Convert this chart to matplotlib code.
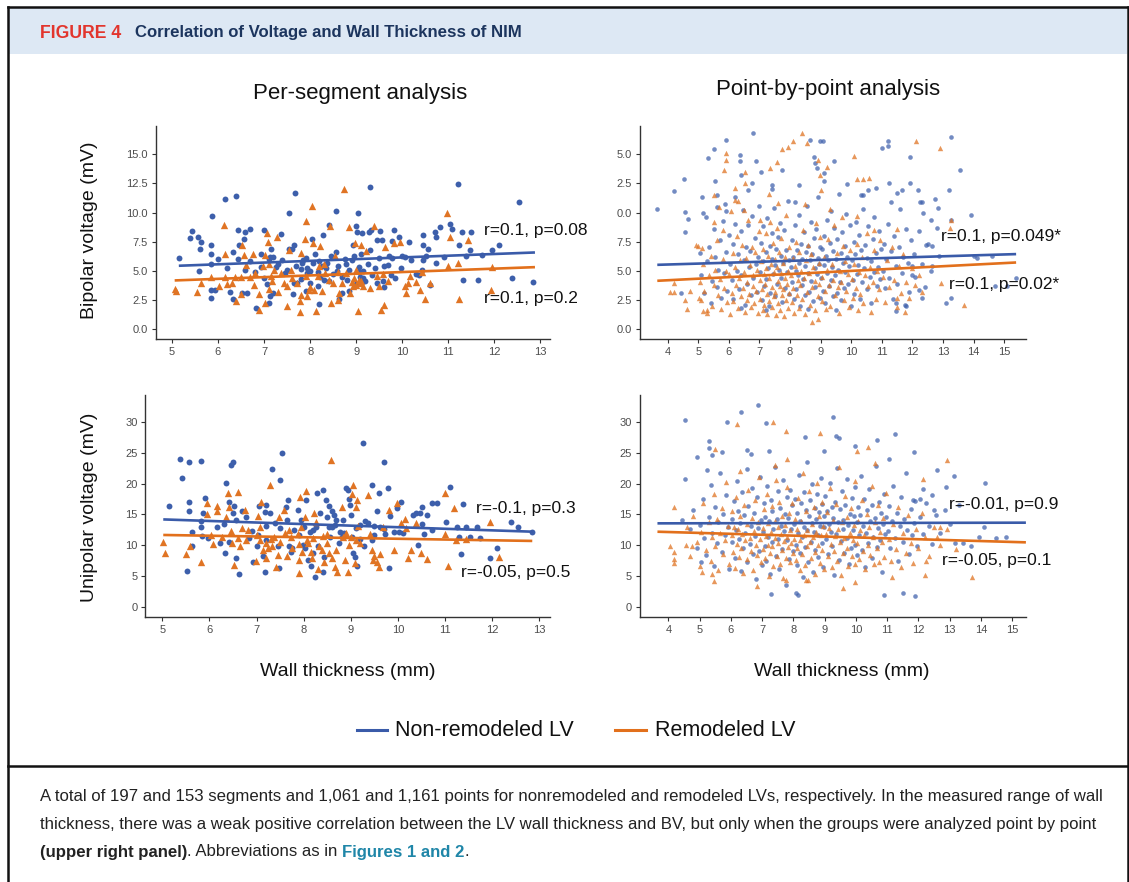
import matplotlib
matplotlib.use("Agg")
import matplotlib.pyplot as plt
from matplotlib.lines import Line2D
from matplotlib.patches import Rectangle
from matplotlib import font_manager

# ------------------------------------------------------------------ data
# Per-segment, bipolar voltage (x = wall thickness mm, y = mV)
seg_bv_non = [(5.15,6.1),(5.4,7.85),(5.43,8.45),(5.56,7.9),(5.58,5.0),(5.62,6.85),(5.64,7.5),(5.87,9.7),
    (5.84,7.2),(5.84,6.45),(5.84,5.55),(5.84,3.35),(5.84,2.65),(5.93,3.35),(6.0,5.97),(6.16,11.15),(6.4,11.45),
    (6.44,8.5),(6.33,6.6),(6.43,6.0),(6.46,7.25),(6.57,7.7),(6.59,8.35),(6.59,5.1),(6.25,3.17),(6.32,2.6),
    (6.53,3.1),(6.63,3.05),(6.7,8.6),(6.83,1.77),(6.93,5.3),(6.93,6.4),(6.99,8.5),(7.07,3.9),(7.1,6.05),
    (7.1,2.23),(7.13,2.85),(7.12,6.17),(7.2,3.05),(7.2,6.2),(7.36,8.17),(7.26,5.3),(7.5,5.1),(7.54,10.0),
    (7.54,6.9),(7.6,6.83),(7.62,2.97),(7.64,3.95),(7.68,11.7),(7.72,3.97),(7.66,7.25),(7.8,5.17),(7.82,5.65),
    (7.85,5.94),(7.92,3.23),(7.93,5.2),(7.94,4.8),(7.99,3.95),(8.05,7.74),(8.07,5.65),(8.16,3.66),(8.18,4.86),
    (8.19,2.14),(8.21,4.5),(8.25,5.37),(8.29,8.1),(8.36,5.66),(8.42,8.94),(8.42,4.08),(8.57,10.1),(8.57,6.6),
    (8.59,4.95),(8.62,2.57),(8.69,3.09),(8.78,5.57),(8.84,5.1),(8.84,3.3),(8.93,7.23),(8.96,6.23),(9.0,8.86),
    (9.01,8.31),(9.04,10.0),(9.07,4.89),(9.09,4.43),(9.13,8.23),(9.15,5.0),(9.15,4.37),(9.28,8.37),(9.31,12.23),
    (9.32,8.51),(9.45,3.94),(9.46,7.66),(9.52,8.43),(9.56,7.66),(9.58,4.08),(9.61,5.43),(9.71,6.23),(9.77,6.09),
    (9.75,4.66),(9.78,7.57),(9.81,8.46),(9.93,7.94),(9.97,5.23),(10.0,6.23),(10.14,7.43),(10.46,8.09),
    (10.46,7.23),(10.46,5.94),(10.51,6.23),(10.42,5.09),(10.36,4.63),(10.61,3.8),(10.72,8.37),(10.73,7.89),
    (10.73,5.66),(10.82,8.74),(11.04,9.0),(11.09,8.57),(11.22,12.46),(11.24,7.23),(11.32,4.17),(11.3,8.29),
    (11.38,6.29),(11.5,8.29),(11.47,6.74),(11.64,4.2),(11.73,6.37),(11.94,6.8),(12.1,7.2),(12.39,4.4),
    (12.53,10.91),(12.83,4.03),(7.3,5.6),(7.4,5.9),(7.45,4.8),(7.7,5.4),(7.8,4.3),(7.9,6.1),(8.0,5.0),(8.1,6.4),
    (8.2,5.8),(8.3,4.2),(8.35,5.2),(8.45,6.3),(8.5,4.7),(8.6,5.4),(8.7,4.5),(8.75,6.0),(8.8,4.2),(8.9,5.9),
    (9.0,3.9),(9.05,5.3),(9.1,6.4),(9.2,4.1),(9.25,5.6),(9.3,6.8),(9.35,4.6),(9.4,5.2),(9.5,6.1),(9.6,3.6),
    (9.7,5.5),(9.85,4.4),(10.05,6.2),(10.2,5.9),(10.3,4.7),(10.55,6.9),(10.9,6.2),(6.8,4.9),(6.7,5.8),(7.0,4.4),
    (7.15,6.9),(6.2,5.2)]
seg_bv_rem = [(5.06,3.46),(5.08,3.3),(5.55,3.14),(5.64,3.94),(5.84,4.5),(6.02,3.66),(6.12,8.94),(6.15,6.46),
    (6.16,4.5),(6.19,3.89),(6.31,3.94),(6.38,4.5),(6.4,2.43),(6.5,4.5),(6.53,7.23),(6.57,6.37),(6.61,5.51),
    (6.7,4.5),(6.76,6.46),(6.79,3.8),(6.9,1.66),(6.97,5.37),(7.03,6.37),(7.03,2.2),(7.06,8.23),(7.09,7.49),
    (7.11,3.43),(7.16,4.51),(7.18,4.09),(7.22,5.09),(7.28,7.94),(7.36,4.8),(7.43,3.94),(7.5,1.94),(7.54,6.8),
    (7.59,5.09),(7.72,3.94),(7.77,2.37),(7.77,1.43),(7.8,6.51),(7.88,7.71),(7.9,9.31),(7.92,4.51),(7.94,2.8),
    (7.97,3.37),(8.03,10.57),(8.07,7.37),(8.09,3.37),(8.12,1.51),(8.16,4.51),(8.19,5.37),(8.21,7.09),(8.25,3.23),
    (8.33,4.8),(8.43,8.8),(8.46,2.23),(8.49,3.94),(8.55,6.23),(8.62,3.09),(8.7,3.94),(8.74,12.0),(8.78,4.8),
    (8.84,8.74),(8.87,3.09),(8.93,3.66),(8.98,7.37),(9.0,5.09),(9.04,1.51),(9.06,4.23),(9.09,3.94),(9.11,7.23),
    (9.15,3.66),(9.22,6.66),(9.39,8.86),(9.45,4.57),(9.49,3.71),(9.53,1.66),(9.58,4.74),(9.61,2.09),(9.63,7.03),
    (9.81,7.37),(9.96,7.43),(10.05,3.66),(10.08,3.09),(10.12,3.94),(10.16,4.51),(10.39,3.37),(10.42,4.86),
    (10.5,2.6),(10.61,3.94),(10.97,10.0),(10.99,5.37),(11.04,7.89),(11.2,5.66),(11.24,2.6),(11.43,7.66),
    (11.94,5.31),(11.92,3.37),(8.6,4.9),(8.9,4.0),(9.1,4.1),(9.0,3.8),(8.95,4.4),(8.3,5.6),(7.6,4.4),(7.3,3.2),
    (6.9,3.0),(6.5,3.0),(7.8,2.9),(8.6,2.5),(9.3,3.5),(9.7,4.1),(10.3,4.0),(8.0,3.6),(8.4,4.2),(7.1,5.6),
    (6.8,4.8),(7.5,3.7)]

# Per-segment, unipolar voltage
seg_uv_non = [(5.15,16.4),(5.37,24.1),(5.42,20.9),(5.56,23.5),(5.56,15.5),(5.57,17.1),(5.53,5.75),(5.62,12.1),
    (5.64,9.9),(5.83,23.7),(5.83,13.9),(5.83,12.9),(5.84,11.5),(5.86,15.2),(5.9,17.7),(5.97,11.1),(6.15,12.9),
    (6.23,10.4),(6.34,8.8),(6.36,20.1),(6.41,17.1),(6.42,10.6),(6.45,23.1),(6.5,23.5),(6.5,15.2),(6.53,16.4),
    (6.56,14.1),(6.57,7.9),(6.63,5.3),(6.7,15.5),(6.78,14.6),(6.83,11.1),(6.92,7.2),(7.0,9.9),(7.03,11.7),
    (7.05,16.4),(7.14,8.25),(7.17,5.7),(7.18,15.4),(7.2,10.9),(7.21,16.5),(7.29,15.2),(7.33,22.4),(7.4,13.6),
    (7.45,9.8),(7.47,6.25),(7.5,20.6),(7.53,25.0),(7.62,16.2),(7.65,14.1),(7.66,17.3),(7.69,9.8),(7.72,8.95),
    (7.76,9.5),(7.87,15.7),(7.91,11.7),(7.94,14.1),(7.98,10.0),(8.02,9.5),(8.05,17.4),(8.1,7.6),(8.13,12.2),
    (8.15,6.6),(8.2,8.7),(8.24,4.9),(8.27,13.0),(8.29,18.5),(8.31,9.8),(8.35,15.3),(8.4,19.0),(8.42,5.7),
    (8.44,8.1),(8.47,17.4),(8.5,14.6),(8.53,16.4),(8.54,13.0),(8.56,11.4),(8.59,15.6),(8.64,14.9),(8.66,13.3),
    (8.69,14.1),(8.75,10.3),(8.76,12.2),(8.81,11.4),(8.84,14.1),(8.89,19.3),(8.94,19.0),(8.97,17.6),(8.99,16.5),
    (9.01,14.9),(9.02,11.4),(9.04,8.7),(9.08,8.1),(9.13,6.7),(9.19,13.3),(9.26,26.7),(9.27,9.9),(9.3,14.0),
    (9.37,13.6),(9.44,19.75),(9.44,10.85),(9.49,11.7),(9.55,15.5),(9.59,18.45),(9.62,12.9),(9.7,23.5),
    (9.73,11.9),(9.79,19.3),(9.81,6.35),(9.84,14.8),(9.92,12.2),(9.97,16.0),(10.03,12.2),(10.06,17.1),
    (10.32,14.9),(10.39,15.2),(10.43,10.0),(10.46,15.3),(10.5,16.2),(10.56,11.9),(10.61,14.9),(10.72,12.5),
    (10.72,16.8),(10.83,16.8),(11.01,13.8),(11.11,19.5),(11.25,13.0),(11.3,11.4),(11.34,8.6),(11.38,16.65),
    (11.45,13.0),(11.52,11.3),(11.67,13.0),(11.74,11.1),(11.95,7.9),(12.11,9.6),(12.4,13.8),(12.55,13.0),
    (12.84,12.2),(8.0,13.0),(8.2,12.5),(8.6,12.9),(8.85,12.0),(9.1,12.8),(9.2,11.0),(9.5,13.2),(9.7,12.6),
    (10.1,12.0),(10.5,13.4),(7.8,12.4),(7.5,12.8),(6.9,12.3),(6.3,13.5),(7.2,13.2)]
seg_uv_rem = [(5.02,10.6),(5.06,8.8),(5.5,8.6),(5.59,9.9),(5.83,7.3),(5.94,15.0),(5.95,16.9),(6.04,11.7),
    (6.07,10.2),(6.16,16.4),(6.16,15.6),(6.26,11.4),(6.35,14.65),(6.4,18.55),(6.41,16.3),(6.45,12.3),(6.48,10.4),
    (6.52,6.8),(6.61,18.7),(6.64,9.9),(6.7,12.75),(6.76,15.7),(6.77,10.85),(6.81,12.4),(6.99,7.4),(7.02,14.8),
    (7.07,10.85),(7.07,13.0),(7.1,17.1),(7.13,9.2),(7.21,10.3),(7.21,7.9),(7.25,9.5),(7.29,19.8),(7.32,9.8),
    (7.36,11.4),(7.42,6.5),(7.45,8.4),(7.47,14.65),(7.5,10.6),(7.58,15.7),(7.64,8.25),(7.69,12.5),(7.72,11.4),
    (7.76,9.5),(7.87,11.8),(7.89,5.5),(7.91,7.6),(7.93,17.9),(7.94,13.0),(7.96,8.95),(8.02,14.65),(8.05,18.9),
    (8.08,10.85),(8.1,10.3),(8.16,8.95),(8.18,8.0),(8.22,15.2),(8.27,13.7),(8.31,6.1),(8.33,9.8),(8.38,9.2),
    (8.44,7.2),(8.49,10.3),(8.53,8.7),(8.57,23.9),(8.6,7.9),(8.66,6.5),(8.69,9.3),(8.71,5.7),(8.81,16.3),
    (8.84,11.4),(8.88,7.6),(8.93,5.7),(8.97,10.0),(9.0,11.3),(9.03,18.3),(9.04,19.8),(9.08,7.05),(9.1,10.85),
    (9.11,16.3),(9.13,17.4),(9.16,13.2),(9.37,18.2),(9.4,11.9),(9.44,9.2),(9.46,7.6),(9.49,8.25),(9.55,7.3),
    (9.59,6.5),(9.62,8.6),(9.68,13.0),(9.81,15.7),(9.92,9.2),(9.97,16.8),(10.06,13.6),(10.14,14.2),(10.17,12.75),
    (10.21,7.9),(10.27,9.2),(10.38,13.6),(10.48,8.7),(10.61,7.7),(11.0,18.45),(11.0,11.9),(11.07,6.7),
    (11.19,16.0),(11.24,10.85),(11.45,10.95),(11.95,13.8),(12.14,8.1),(7.3,11.0),(7.6,12.0),(8.2,11.2),
    (8.5,11.8),(8.9,12.0),(9.2,10.3),(7.0,11.6),(6.6,11.2),(7.9,10.2),(8.4,11.5)]

# Point-by-point, bipolar voltage
pt_bv_non = [(3.66,10.3),(4.2,11.86),(4.54,12.86),(4.55,10.03),(4.55,8.37),(4.45,3.09),(4.66,9.43),(5.31,14.7),
    (5.17,9.94),(5.13,11.37),(5.53,15.43),(5.6,11.5),(5.54,12.74),(5.9,16.2),(5.88,10.74),(5.9,10.1),(6.35,14.9),
    (6.37,14.4),(6.4,13.23),(6.63,11.94),(6.74,12.57),(6.8,16.86),(6.89,14.46),(7.04,13.5),(7.4,12.37),
    (7.74,13.66),(8.65,16.23),(8.78,14.8),(8.8,14.23),(8.88,13.8),(8.97,16.17),(9.09,16.14),(9.1,13.37),
    (9.45,14.43),(9.86,12.46),(10.33,11.5),(10.56,11.94),(10.8,12.1),(11.0,15.5),(11.2,16.14),(11.2,15.7),
    (11.25,12.5),(11.5,11.7),(11.65,11.94),(11.93,14.8),(11.93,12.57),(12.19,11.94),(12.24,10.94),(12.3,10.94),
    (12.34,9.94),(12.6,9.37),(12.73,11.2),(12.84,10.37),(13.2,11.94),(13.26,16.5),(13.56,13.66),(13.9,9.8),
    (13.26,9.37),(14.0,6.23),(14.7,3.66),(13.1,2.23),(13.26,2.66),(15.39,4.37),(15.1,3.66),(12.3,2.66),
    (11.8,1.94),(11.46,1.51),(11.46,2.23),(12.22,3.37),(12.0,5.37),(12.0,4.66),(12.65,5.37),(12.87,6.23),
    (12.45,7.23),(12.65,7.09),(14.1,6.09),(14.6,6.23),
    (5.1,4.6),(5.2,3.1),(5.3,5.8),(5.35,7.0),(5.4,2.2),(5.45,4.1),(5.5,8.6),(5.55,6.2),(5.6,3.6),(5.65,5.1),
    (5.7,7.6),(5.75,2.7),(5.8,9.3),(5.85,4.8),(5.9,6.6),(5.95,3.3),(6.0,8.1),(5.25,9.6),(5.05,6.5),(5.6,10.5),
    (6.05,5.6),(6.1,4.2),(6.12,7.3),(6.15,2.6),(6.2,9.0),(6.25,5.0),(6.3,6.4),(6.33,3.4),(6.38,8.4),(6.4,4.6),
    (6.45,10.2),(6.5,5.9),(6.52,2.1),(6.55,7.0),(6.6,3.9),(6.62,8.9),(6.65,5.3),(6.7,6.7),(6.72,2.9),(6.75,9.7),
    (6.8,4.4),(6.85,7.8),(6.9,5.6),(6.92,3.2),(6.95,6.2),(6.98,10.6),(6.2,11.3),(6.4,1.8),
    (7.02,4.9),(7.05,7.4),(7.08,2.5),(7.1,5.8),(7.12,8.8),(7.15,3.7),(7.2,6.6),(7.22,4.3),(7.25,9.5),(7.28,5.2),
    (7.3,2.0),(7.33,7.1),(7.36,3.1),(7.4,6.0),(7.42,8.2),(7.45,4.7),(7.48,10.4),(7.5,5.5),(7.52,2.8),(7.55,6.9),
    (7.58,3.9),(7.6,7.9),(7.63,5.1),(7.66,9.1),(7.7,4.4),(7.72,6.3),(7.75,2.3),(7.78,5.7),(7.8,8.5),(7.83,3.5),
    (7.86,6.8),(7.9,4.9),(7.93,11.0),(7.96,5.9),(7.98,3.0),(7.4,12.0),(7.2,1.6),
    (8.02,5.3),(8.05,7.6),(8.07,4.0),(8.1,6.2),(8.12,2.6),(8.15,8.9),(8.18,5.0),(8.2,3.4),(8.22,6.8),(8.25,4.6),
    (8.28,9.8),(8.3,5.7),(8.33,2.0),(8.35,7.3),(8.38,3.8),(8.4,6.0),(8.42,4.3),(8.45,8.3),(8.48,5.4),(8.5,2.9),
    (8.52,6.6),(8.55,10.6),(8.58,4.8),(8.6,7.1),(8.62,3.2),(8.65,5.9),(8.68,9.2),(8.7,4.1),(8.72,6.4),(8.75,2.4),
    (8.78,7.8),(8.8,5.2),(8.82,3.6),(8.85,8.6),(8.88,4.7),(8.9,6.1),(8.92,11.3),(8.95,5.6),(8.97,2.7),(8.99,7.0),
    (8.3,12.4),(8.6,1.7),(8.15,10.9),
    (9.02,4.4),(9.05,6.9),(9.07,3.3),(9.1,5.5),(9.12,8.0),(9.15,2.2),(9.18,6.3),(9.2,4.8),(9.22,9.4),(9.25,5.9),
    (9.28,3.7),(9.3,7.4),(9.33,4.2),(9.35,10.1),(9.38,5.3),(9.4,2.8),(9.42,6.7),(9.45,8.7),(9.48,4.6),(9.5,6.0),
    (9.52,3.1),(9.55,7.7),(9.58,5.1),(9.6,11.6),(9.62,4.0),(9.65,6.5),(9.68,2.5),(9.7,8.3),(9.72,5.7),(9.75,3.5),
    (9.78,7.1),(9.8,4.9),(9.83,9.9),(9.86,6.2),(9.9,3.9),(9.93,5.4),(9.96,8.9),(9.98,2.0),(9.1,12.7),(9.5,1.6),
    (10.02,5.9),(10.05,4.2),(10.08,7.5),(10.1,3.0),(10.13,6.4),(10.16,9.2),(10.2,4.7),(10.23,5.5),(10.26,8.1),
    (10.3,2.6),(10.33,6.8),(10.36,4.0),(10.4,10.3),(10.43,5.2),(10.46,7.2),(10.5,3.4),(10.53,6.1),(10.56,8.8),
    (10.6,4.5),(10.63,5.8),(10.66,2.2),(10.7,7.7),(10.73,4.9),(10.76,9.6),(10.8,6.5),(10.83,3.7),(10.86,5.3),
    (10.9,8.4),(10.93,4.3),(10.96,6.9),(10.4,11.5),
    (11.03,5.0),(11.07,7.3),(11.1,3.5),(11.15,6.0),(11.2,9.0),(11.25,4.4),(11.3,6.7),(11.35,2.6),(11.4,8.0),
    (11.45,5.4),(11.5,3.9),(11.55,7.0),(11.6,10.3),(11.65,4.8),(11.7,6.2),(11.75,2.1),(11.8,8.6),(11.85,5.7),
    (11.9,3.2),(11.95,7.6),(11.3,10.9),(12.05,6.4),(12.1,4.5),(12.2,8.4),(12.3,5.6),(12.4,3.6),(12.5,7.3),
    (12.6,5.0),(12.8,8.7)]
pt_bv_rem = [(4.19,3.94),(4.07,3.17),(4.2,3.17),(4.55,2.51),(4.63,1.74),(4.72,3.23),(4.94,7.23),(5.0,7.09),
    (5.11,6.94),(5.03,2.66),(5.17,1.51),(5.28,1.66),(5.51,11.5),(5.9,15.1),(5.9,14.5),(5.84,13.66),(5.67,10.5),
    (6.07,10.1),(6.2,12.1),(6.2,11.1),(6.52,13.5),(6.52,12.5),(7.02,9.37),(7.36,13.8),(7.58,14.3),(7.75,15.43),
    (7.94,15.66),(8.11,16.1),(8.39,16.8),(8.56,15.94),(8.9,14.5),(8.97,13.23),(9.22,13.94),(9.02,11.94),
    (10.1,14.86),(10.18,12.86),(10.38,12.86),(10.58,12.94),(10.73,8.51),(12.11,16.1),(12.9,15.5),(13.26,9.37),
    (13.24,8.66),(13.7,2.09),(12.92,3.94),(11.76,1.43),(11.48,2.66),(8.72,0.57),
    (5.05,4.0),(5.1,2.5),(5.15,5.6),(5.2,3.3),(5.3,1.4),(5.35,4.6),(5.4,6.3),(5.45,2.0),(5.5,3.8),(5.55,5.1),
    (5.6,7.6),(5.65,2.9),(5.7,4.3),(5.75,1.7),(5.8,6.0),(5.85,3.5),(5.9,5.0),(5.95,2.3),(5.5,9.2),(5.8,8.5),
    (6.02,4.7),(6.05,1.3),(6.1,3.1),(6.12,6.5),(6.15,2.4),(6.2,5.3),(6.22,3.8),(6.25,8.0),(6.3,1.8),(6.33,4.4),
    (6.36,5.9),(6.4,2.8),(6.42,7.2),(6.45,3.5),(6.5,4.9),(6.52,1.5),(6.55,6.1),(6.58,2.5),(6.6,4.0),(6.63,9.4),
    (6.66,3.0),(6.7,5.5),(6.72,1.9),(6.75,7.0),(6.78,3.7),(6.8,4.6),(6.83,2.2),(6.86,6.6),(6.9,3.3),(6.93,5.1),
    (6.96,1.4),(6.98,8.4),(6.5,10.2),(6.3,11.0),
    (7.01,4.2),(7.03,2.6),(7.05,5.8),(7.07,3.4),(7.1,1.6),(7.12,6.9),(7.14,4.7),(7.16,2.1),(7.18,3.9),(7.2,8.2),
    (7.22,5.2),(7.24,1.3),(7.26,3.0),(7.28,6.3),(7.3,4.4),(7.32,2.4),(7.35,9.2),(7.37,5.6),(7.4,3.6),(7.42,1.9),
    (7.44,7.4),(7.46,4.9),(7.48,2.8),(7.5,6.0),(7.52,3.2),(7.54,1.2),(7.56,5.3),(7.58,8.7),(7.6,4.1),(7.62,2.2),
    (7.64,6.6),(7.66,3.7),(7.68,1.6),(7.7,4.8),(7.72,7.8),(7.74,2.9),(7.76,5.7),(7.78,3.4),(7.8,1.1),(7.82,4.4),
    (7.84,6.2),(7.86,2.5),(7.88,9.8),(7.9,3.9),(7.92,5.0),(7.94,1.8),(7.96,7.0),(7.98,3.1),(7.6,10.8),(7.3,11.6),
    (8.02,4.6),(8.05,2.3),(8.08,6.1),(8.1,3.5),(8.13,1.4),(8.16,5.4),(8.2,7.5),(8.22,2.9),(8.25,4.2),(8.28,1.8),
    (8.3,6.6),(8.33,3.8),(8.36,5.0),(8.4,2.6),(8.43,8.5),(8.46,4.4),(8.5,1.3),(8.53,5.9),(8.56,3.2),(8.6,7.2),
    (8.63,4.8),(8.66,2.1),(8.7,6.4),(8.73,3.6),(8.76,5.3),(8.8,1.6),(8.83,4.1),(8.86,9.1),(8.9,2.8),(8.93,5.7),
    (8.96,3.9),(8.99,7.9),(8.5,10.7),(8.9,0.9),
    (9.03,4.5),(9.06,2.4),(9.1,6.2),(9.13,3.3),(9.16,1.7),(9.2,5.1),(9.24,7.7),(9.28,3.8),(9.32,2.0),(9.36,5.6),
    (9.4,4.2),(9.44,8.9),(9.48,2.9),(9.52,6.5),(9.56,3.6),(9.6,1.4),(9.64,5.0),(9.68,4.0),(9.72,7.1),(9.76,2.5),
    (9.8,5.8),(9.84,3.3),(9.88,4.7),(9.92,1.9),(9.96,6.8),(9.3,10.3),(9.7,9.6),
    (10.03,4.3),(10.07,2.7),(10.1,5.6),(10.14,3.5),(10.18,7.3),(10.22,1.6),(10.26,4.9),(10.3,3.0),(10.35,6.2),
    (10.4,2.2),(10.45,4.6),(10.5,8.2),(10.55,3.7),(10.6,5.3),(10.65,1.5),(10.7,4.0),(10.75,6.8),(10.8,2.6),
    (10.85,5.0),(10.9,3.4),(10.95,7.6),(10.2,9.7),
    (11.05,4.5),(11.1,2.3),(11.18,5.9),(11.25,3.6),(11.32,7.0),(11.4,4.2),(11.48,1.9),(11.55,5.4),(11.62,3.1),
    (11.7,6.4),(11.8,4.0),(11.9,2.7),(12.0,5.2),(12.1,3.8),(12.2,4.6),(12.3,3.2),(11.5,8.6)]

# Point-by-point, unipolar voltage
pt_uv_non = [(4.52,30.4),(4.54,20.8),(4.9,24.4),(4.44,14.1),(5.31,26.9),(5.31,25.8),(5.4,24.7),(5.73,25.2),
    (5.89,30.1),(6.31,31.6),(6.53,25.5),(6.64,24.9),(6.88,32.8),(7.12,29.8),(7.23,25.3),(8.37,27.6),(8.97,25.4),
    (9.28,30.9),(9.36,27.8),(9.47,27.4),(9.98,26.2),(10.68,27.1),(11.26,28.1),(11.07,24.0),(11.87,25.2),
    (12.6,22.2),(13.13,21.3),(14.12,20.1),(13.68,9.9),(13.93,11.4),(14.47,11.1),(14.8,11.3),(14.09,12.9),
    (13.44,10.3),(13.17,10.3),(10.9,1.9),(11.5,2.3),(11.89,1.7),(7.27,2.0),(8.09,2.3),(8.14,1.9),(12.05,17.6),
    (12.14,19.1),(12.44,18.2),(12.88,19.5),(12.5,15.7),(11.84,17.4),
    (4.7,12.6),(4.8,15.8),(4.9,9.5),(5.0,13.3),(5.1,17.5),(5.15,11.2),(5.2,8.4),(5.3,14.6),(5.35,19.8),(5.4,12.0),
    (5.45,6.6),(5.5,16.3),(5.55,10.4),(5.6,13.8),(5.65,21.7),(5.7,8.9),(5.75,15.1),(5.8,11.7),(5.85,18.2),
    (5.9,13.0),(5.95,6.1),(5.25,22.3),(5.05,7.2),
    (6.02,14.3),(6.05,10.6),(6.1,17.2),(6.12,8.0),(6.15,12.4),(6.2,20.5),(6.22,15.6),(6.25,11.0),(6.3,13.6),
    (6.33,5.8),(6.36,18.6),(6.4,9.6),(6.43,14.9),(6.46,12.0),(6.5,22.4),(6.53,7.3),(6.56,16.4),(6.6,10.2),
    (6.63,13.2),(6.66,19.3),(6.7,8.6),(6.73,15.3),(6.76,11.5),(6.8,4.5),(6.83,17.8),(6.86,12.8),(6.9,9.1),
    (6.93,21.1),(6.96,14.1),(6.98,6.8),
    (7.02,12.2),(7.05,16.8),(7.08,9.8),(7.1,14.6),(7.13,7.5),(7.16,19.7),(7.2,11.4),(7.22,13.9),(7.25,5.3),
    (7.28,17.3),(7.3,10.5),(7.33,15.5),(7.36,12.7),(7.4,22.7),(7.43,8.3),(7.46,14.2),(7.5,18.9),(7.52,11.0),
    (7.55,6.2),(7.58,16.1),(7.6,13.1),(7.63,9.4),(7.66,20.6),(7.7,12.3),(7.72,15.0),(7.75,3.6),(7.78,17.9),
    (7.8,10.8),(7.83,14.4),(7.86,7.8),(7.9,19.0),(7.93,12.6),(7.96,16.6),(7.98,9.0),
    (8.02,13.5),(8.05,17.6),(8.07,10.1),(8.1,15.2),(8.12,6.8),(8.15,12.0),(8.18,21.4),(8.2,14.0),(8.22,8.7),
    (8.25,16.9),(8.28,11.3),(8.3,4.8),(8.33,18.7),(8.35,13.0),(8.38,9.7),(8.4,15.8),(8.42,12.4),(8.45,23.6),
    (8.48,7.2),(8.5,14.7),(8.52,17.4),(8.55,10.6),(8.58,13.6),(8.6,19.9),(8.62,5.6),(8.65,12.2),(8.68,16.0),
    (8.7,9.3),(8.72,14.3),(8.75,18.3),(8.78,11.7),(8.8,8.1),(8.82,15.4),(8.85,13.2),(8.88,21.0),(8.9,10.3),
    (8.92,16.7),(8.95,6.4),(8.97,12.9),(8.99,14.8),
    (9.02,18.0),(9.05,11.0),(9.08,15.6),(9.1,8.5),(9.13,13.4),(9.16,20.2),(9.2,12.1),(9.22,16.3),(9.25,9.9),
    (9.28,14.5),(9.3,5.1),(9.33,17.1),(9.36,11.8),(9.4,22.5),(9.43,13.8),(9.46,7.6),(9.5,15.9),(9.52,10.7),
    (9.55,18.8),(9.58,12.6),(9.6,14.1),(9.63,8.8),(9.66,16.5),(9.7,11.2),(9.72,20.8),(9.75,13.3),(9.78,6.9),
    (9.8,15.1),(9.83,9.5),(9.86,17.7),(9.9,12.4),(9.93,14.7),(9.96,10.0),(9.98,19.4),
    (10.02,13.7),(10.05,8.4),(10.08,16.2),(10.1,11.6),(10.13,14.9),(10.16,21.2),(10.2,9.2),(10.23,13.1),
    (10.26,17.5),(10.3,6.5),(10.33,12.0),(10.36,15.7),(10.4,10.4),(10.43,19.1),(10.46,13.9),(10.5,7.9),
    (10.53,16.6),(10.56,11.4),(10.6,14.4),(10.63,22.9),(10.66,9.7),(10.7,12.8),(10.73,17.0),(10.76,10.9),
    (10.8,15.3),(10.83,5.7),(10.86,13.5),(10.9,18.4),(10.93,11.9),(10.96,14.6),
    (11.03,12.3),(11.07,16.4),(11.1,9.6),(11.15,13.9),(11.2,19.6),(11.25,11.1),(11.3,15.2),(11.35,7.4),
    (11.4,13.2),(11.45,17.8),(11.5,10.5),(11.55,14.2),(11.6,21.7),(11.65,12.5),(11.7,8.6),(11.75,15.9),
    (11.8,11.6),(11.85,13.6),(11.9,17.2),(11.95,9.8),(12.05,14.6),(12.15,11.8),(12.25,16.8),(12.35,13.1),
    (12.45,10.2),(12.55,14.9),(12.7,12.0),(12.85,15.8),(13.0,13.4),(13.3,16.5)]
pt_uv_rem = [(4.19,16.3),(4.04,9.8),(4.19,8.95),(4.19,7.7),(4.19,7.05),(4.57,10.0),(4.74,9.9),(5.07,5.6),
    (5.45,4.2),(5.4,5.4),(5.48,25.6),(6.2,29.7),(7.36,30.0),(7.76,28.6),(8.84,28.3),(10.02,25.3),(10.38,25.9),
    (10.62,23.4),(12.91,23.9),(12.14,20.8),(13.72,4.9),(9.58,3.0),(8.4,4.3),(7.76,4.3),(6.83,3.3),(9.96,4.1),
    (11.17,4.9),(12.2,5.2),(12.25,7.4),(12.6,11.4),(12.7,13.0),
    (4.6,12.9),(4.7,8.3),(4.8,14.8),(4.9,10.5),(5.0,6.7),(5.05,12.2),(5.1,16.9),(5.2,9.2),(5.3,13.7),(5.35,7.5),
    (5.4,11.3),(5.45,18.4),(5.5,9.8),(5.55,14.3),(5.6,5.9),(5.65,12.0),(5.7,16.0),(5.75,8.6),(5.8,10.9),
    (5.85,20.3),(5.9,13.2),(5.95,7.0),
    (6.02,11.6),(6.05,15.5),(6.08,8.9),(6.1,13.0),(6.13,6.3),(6.16,17.9),(6.2,10.2),(6.22,12.6),(6.25,8.1),
    (6.28,22.0),(6.3,14.7),(6.33,9.6),(6.36,11.9),(6.4,5.5),(6.43,16.6),(6.46,10.8),(6.5,13.4),(6.53,7.7),
    (6.56,19.0),(6.6,11.2),(6.63,9.0),(6.66,14.5),(6.7,6.0),(6.73,12.3),(6.76,17.4),(6.8,10.0),(6.83,8.4),
    (6.86,13.8),(6.9,21.1),(6.93,11.0),(6.96,7.2),
    (7.02,12.8),(7.04,9.4),(7.07,15.9),(7.1,7.9),(7.12,11.5),(7.15,18.3),(7.18,10.1),(7.2,13.6),(7.22,5.0),
    (7.25,8.7),(7.28,12.1),(7.3,16.4),(7.33,9.9),(7.36,6.6),(7.4,14.0),(7.42,11.1),(7.45,20.6),(7.48,8.2),
    (7.5,12.9),(7.52,10.4),(7.55,17.1),(7.58,6.9),(7.6,11.8),(7.62,9.2),(7.65,14.8),(7.68,4.6),(7.7,10.7),
    (7.72,13.3),(7.75,8.0),(7.78,19.5),(7.8,11.4),(7.82,9.7),(7.85,15.3),(7.88,7.3),(7.9,12.5),(7.92,10.3),
    (7.95,16.8),(7.98,8.8),(7.4,23.1),(7.8,24.0),
    (8.02,11.0),(8.05,14.2),(8.08,7.6),(8.1,12.7),(8.13,9.5),(8.16,17.7),(8.2,5.9),(8.22,10.9),(8.25,13.9),
    (8.28,8.5),(8.3,21.7),(8.33,11.6),(8.36,6.8),(8.4,15.6),(8.42,9.9),(8.45,12.4),(8.48,4.4),(8.5,18.8),
    (8.53,10.5),(8.56,7.9),(8.6,13.5),(8.62,11.3),(8.65,16.2),(8.68,8.9),(8.7,5.4),(8.73,12.2),(8.76,20.1),
    (8.8,10.0),(8.82,14.7),(8.85,7.1),(8.88,11.7),(8.9,17.0),(8.93,9.3),(8.96,13.1),(8.99,6.2),
    (9.03,11.9),(9.06,15.4),(9.1,8.3),(9.13,12.8),(9.16,19.3),(9.2,10.2),(9.23,6.4),(9.26,14.1),(9.3,9.1),
    (9.33,11.5),(9.36,16.7),(9.4,7.4),(9.43,12.6),(9.46,22.8),(9.5,10.6),(9.53,5.2),(9.56,13.7),(9.6,8.7),
    (9.63,11.1),(9.66,18.0),(9.7,9.5),(9.73,14.6),(9.76,6.7),(9.8,12.0),(9.83,16.1),(9.86,8.2),(9.9,10.8),
    (9.93,13.3),(9.96,7.0),(9.98,20.4),
    (10.03,10.3),(10.06,14.0),(10.1,7.8),(10.14,12.4),(10.18,17.3),(10.22,9.0),(10.26,11.7),(10.3,6.1),
    (10.34,15.1),(10.38,10.0),(10.42,12.9),(10.46,8.4),(10.5,19.6),(10.54,11.3),(10.58,6.9),(10.62,13.8),
    (10.66,9.6),(10.7,16.5),(10.74,7.2),(10.78,12.1),(10.82,10.5),(10.86,14.4),(10.9,8.1),(10.95,18.5),
    (11.05,11.0),(11.12,7.5),(11.2,13.4),(11.28,9.4),(11.36,16.2),(11.44,6.5),(11.52,12.0),(11.6,8.8),
    (11.68,14.9),(11.76,10.3),(11.84,7.1),(11.92,12.7),(12.0,9.6),(12.1,15.2),(12.2,11.4),(12.35,8.3),
    (12.5,13.0),(12.7,10.1),(12.9,12.6),(13.2,9.4)]

# Fitted regression lines: (x_start, x_end), (y_start, y_end)
seg_bv_fit_non = ([5.15, 12.88], [5.43, 6.57])
seg_bv_fit_rem = ([5.06, 12.88], [4.17, 5.31])
seg_uv_fit_non = ([5.02, 12.87], [14.2, 12.2])
seg_uv_fit_rem = ([5.02, 12.85], [11.67, 10.7])
pt_bv_fit_non = ([3.66, 15.39], [5.51, 6.43])
pt_bv_fit_rem = ([3.66, 15.39], [4.14, 5.71])
pt_uv_fit_non = ([3.65, 15.44], [13.56, 13.67])
pt_uv_fit_rem = ([3.65, 15.44], [12.2, 10.47])

# Text
seg_bv_stats = ["r=0.1, p=0.08", "r=0.1, p=0.2"]
seg_uv_stats = ["r=-0.1, p=0.3", "r=-0.05, p=0.5"]
pt_bv_stats = ["r=0.1, p=0.049*", "r=0.1, p=0.02*"]
pt_uv_stats = ["r=-0.01, p=0.9", "r=-0.05, p=0.1"]
seg_xticks = [5, 6, 7, 8, 9, 10, 11, 12, 13]
pt_xticks = [4, 5, 6, 7, 8, 9, 10, 11, 12, 13, 14, 15]
bv_yticks = [0, 2.5, 5, 7.5, 10, 12.5, 15]
seg_bv_yticklabels = ["0.0", "2.5", "5.0", "7.5", "10.0", "12.5", "15.0"]
pt_bv_yticklabels = ["0.0", "2.5", "5.0", "7.5", "0.0", "2.5", "5.0"]
uv_yticks = [0, 5, 10, 15, 20, 25, 30]
uv_yticklabels = ["0", "5", "10", "15", "20", "25", "30"]
legend_labels = ["Non-remodeled LV", "Remodeled LV"]
caption_lines = [
    "A total of 197 and 153 segments and 1,061 and 1,161 points for nonremodeled and remodeled LVs, respectively. In the measured range of wall",
    "thickness, there was a weak positive correlation between the LV wall thickness and BV, but only when the groups were analyzed point by point",
]

# ------------------------------------------------------------------ style
BLUE = "#3D5FAB"
ORANGE = "#E07424"
BLUE_LINE = "#3A5BA9"
ORANGE_LINE = "#E2701C"
AXC = "#333333"
TICKC = "#4D4D4D"

names = {f.name for f in font_manager.fontManager.ttflist}
SANS = ["Liberation Sans", "DejaVu Sans"]
NARROW = ["Liberation Sans Narrow", "Liberation Sans", "DejaVu Sans"] if "Liberation Sans Narrow" in names else SANS
plt.rcParams["font.family"] = SANS

W, H = 1129, 882
fig = plt.figure(figsize=(W / 100, H / 100), dpi=100)
fig.patch.set_facecolor("white")
R = fig.canvas.get_renderer()


def fx(px):
    return px / W


def fy(py):
    return 1 - py / H


def text_px(x, y, s, **kw):
    return fig.text(fx(x), fy(y), s, **kw)


def fit_width(t, width):
    w = t.get_window_extent(R).width
    t.set_fontsize(t.get_fontsize() * width / w)
    return t


# ------------------------------------------------------------------ frame/header
fig.add_artist(Rectangle((fx(9), fy(54)), (1127 - 9) / W, 46 / H, transform=fig.transFigure,
                         facecolor="#DDE8F4", edgecolor="none", zorder=0))
for xs, ys in [([8, 1127.5], [7, 7]), ([8, 8], [7, 882]), ([1127.5, 1127.5], [7, 882]), ([8, 1127.5], [766, 766])]:
    fig.add_artist(Line2D([fx(v) for v in xs], [fy(v) for v in ys], color="#111111", lw=1.8,
                          transform=fig.transFigure, solid_capstyle="projecting"))

t = text_px(40, 33, "FIGURE 4", fontsize=11, fontweight="bold", color="#E2352D", va="center", ha="left")
fit_width(t, 81)
t = text_px(135, 33, "Correlation of Voltage and Wall Thickness of NIM", fontsize=11, fontweight="bold",
            color="#1C355E", va="center", ha="left", family=NARROW)
fit_width(t, 390)


# ------------------------------------------------------------------ panels
def panel(box, xlim, ylim, xticks, yticks, yticklabels, non, rem, fit_non, fit_rem, dense):
    l, r, tp, b = box
    ax = fig.add_axes([fx(l), fy(b), (r - l) / W, (b - tp) / H])
    ax.set_xlim(xlim)
    ax.set_ylim(ylim)
    ax.patch.set_alpha(0)
    nx, ny = zip(*non)
    rx, ry = zip(*rem)
    if dense:
        ax.scatter(nx, ny, s=11, marker="o", color=BLUE, alpha=0.72, linewidths=0, clip_on=False)
        ax.scatter(rx, ry, s=15, marker="^", color=ORANGE, alpha=0.75, linewidths=0, clip_on=False)
    else:
        ax.scatter(nx, ny, s=18, marker="o", color=BLUE, linewidths=0, clip_on=False)
        ax.scatter(rx, ry, s=28, marker="^", color=ORANGE, linewidths=0, clip_on=False)
    ax.plot(fit_non[0], fit_non[1], color=BLUE_LINE, lw=1.9, solid_capstyle="butt")
    ax.plot(fit_rem[0], fit_rem[1], color=ORANGE_LINE, lw=1.9, solid_capstyle="butt")
    for sp in ("top", "right"):
        ax.spines[sp].set_visible(False)
    for sp in ("left", "bottom"):
        ax.spines[sp].set_color(AXC)
        ax.spines[sp].set_linewidth(1.0)
    ax.set_xticks(xticks)
    ax.set_xticklabels([str(v) for v in xticks])
    ax.set_yticks(yticks)
    ax.set_yticklabels(yticklabels)
    ax.tick_params(direction="out", length=3.2, width=0.8, color=AXC, labelsize=8, labelcolor=TICKC, pad=2.5)
    return ax


panel((155.7, 549.7, 126.3, 339), (4.648, 13.2), (-0.857, 17.4), seg_xticks, bv_yticks, seg_bv_yticklabels,
      seg_bv_non, seg_bv_rem, seg_bv_fit_non, seg_bv_fit_rem, False)
panel((639.8, 1025.9, 126.3, 339), (3.088, 15.71), (-0.857, 17.4), pt_xticks, bv_yticks, pt_bv_yticklabels,
      pt_bv_non, pt_bv_rem, pt_bv_fit_non, pt_bv_fit_rem, True)
panel((145.4, 549.7, 394.6, 617.3), (4.641, 13.22), (-1.72, 34.5), seg_xticks, uv_yticks, uv_yticklabels,
      seg_uv_non, seg_uv_rem, seg_uv_fit_non, seg_uv_fit_rem, False)
panel((639.8, 1025.9, 394.6, 617.3), (3.085, 15.44), (-1.72, 34.5), pt_xticks, uv_yticks, uv_yticklabels,
      pt_uv_non, pt_uv_rem, pt_uv_fit_non, pt_uv_fit_rem, True)

# statistics annotations
STAT = dict(fontsize=12.5, color="#111111", va="center", ha="left")
text_px(483.5, 230, seg_bv_stats[0], **STAT)
text_px(483.5, 298, seg_bv_stats[1], **STAT)
text_px(941, 237, pt_bv_stats[0], **STAT)
text_px(949, 285, pt_bv_stats[1], **STAT)
text_px(476.5, 508, seg_uv_stats[0], **STAT)
text_px(461, 573, seg_uv_stats[1], **STAT)
text_px(949, 504, pt_uv_stats[0], **STAT)
text_px(942, 561, pt_uv_stats[1], **STAT)

# titles and axis labels
text_px(360, 93, "Per-segment analysis", fontsize=16, color="#111111", ha="center", va="center")
text_px(828, 90, "Point-by-point analysis", fontsize=16, color="#111111", ha="center", va="center")
text_px(90, 230, "Bipolar voltage (mV)", fontsize=14, color="#111111", ha="center", va="center", rotation=90)
text_px(90, 507, "Unipolar voltage (mV)", fontsize=14, color="#111111", ha="center", va="center", rotation=90)
text_px(348, 671, "Wall thickness (mm)", fontsize=14, color="#111111", ha="center", va="center")
text_px(842, 671, "Wall thickness (mm)", fontsize=14, color="#111111", ha="center", va="center")

# legend
fig.add_artist(Line2D([fx(357), fx(387)], [fy(730), fy(730)], color=BLUE_LINE, lw=2.2, transform=fig.transFigure))
text_px(395, 730, legend_labels[0], fontsize=15.5, color="#111111", ha="left", va="center")
fig.add_artist(Line2D([fx(615), fx(646)], [fy(730), fy(730)], color=ORANGE_LINE, lw=2.2, transform=fig.transFigure))
text_px(655, 730, legend_labels[1], fontsize=15.5, color="#111111", ha="left", va="center")

# caption
CAPC = "#222222"
t1 = text_px(40, 797, caption_lines[0], fontsize=11, color=CAPC, ha="left", va="center", family=NARROW)
fit_width(t1, 1053)
cs = t1.get_fontsize()
text_px(40, 825, caption_lines[1], fontsize=cs, color=CAPC, ha="left", va="center", family=NARROW)
space = cs * 100 / 72 * 0.25
parts = [("(upper right panel)", "bold", CAPC, 0), (". Abbreviations as in", "normal", CAPC, 0),
         ("Figures 1 and 2", "bold", "#1F86A8", space), (".", "normal", CAPC, 0)]
x = 40
for s, wgt, col, gap in parts:
    x += gap
    tt = text_px(x, 852, s, fontsize=cs, fontweight=wgt, color=col, ha="left", va="center", family=NARROW)
    x += tt.get_window_extent(R).width

fig.savefig("out.png", dpi=100, facecolor="white")
